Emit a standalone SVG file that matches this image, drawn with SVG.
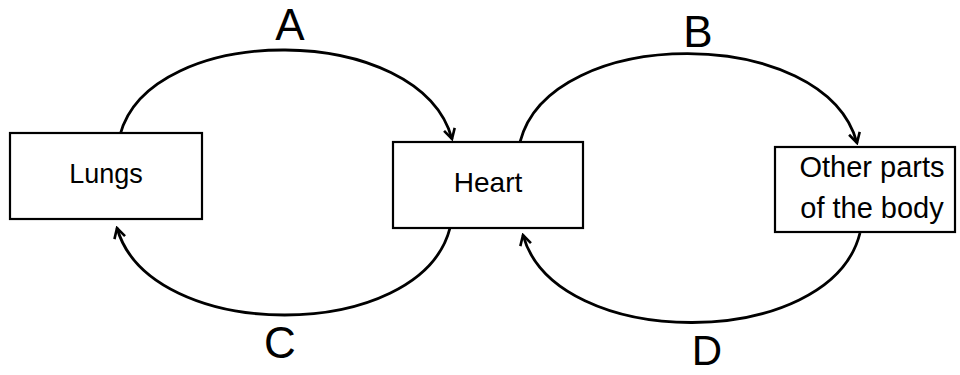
<svg xmlns="http://www.w3.org/2000/svg" width="960" height="375" viewBox="0 0 960 375">
<style>
.box{fill:#fff;stroke:#000;stroke-width:2.2}
.lbl{font-family:"Liberation Sans",Arial,sans-serif;font-size:27px;fill:#000;text-anchor:middle}
.big{font-family:"Liberation Sans",Arial,sans-serif;font-size:44px;fill:#000;text-anchor:middle}
.arc{fill:none;stroke:#000;stroke-width:2.8}
</style>
<defs>
<marker id="ah" viewBox="0 0 14 14" refX="12" refY="7" markerWidth="14" markerHeight="14" markerUnits="userSpaceOnUse" orient="auto">
<path d="M2,1.5 L12,7 L2,12.5" fill="none" stroke="#000" stroke-width="2.6"/>
</marker>
</defs>
<rect width="960" height="375" fill="#fff"/>
<g id="connectors">
<path class="arc" d="M120,135 C150,21 420,21 452,139" marker-end="url(#ah)"/>
<path class="arc" d="M520,142 C550,24 825,24 857,143" marker-end="url(#ah)"/>
<path class="arc" d="M450,228 C420,344 150,344 117,228" marker-end="url(#ah)"/>
<path class="arc" d="M860,233 C830,352 555,352 523,235" marker-end="url(#ah)"/>
</g>
<g id="lungs">
<rect class="box" x="10" y="133" width="192" height="86"/>
<text class="lbl" x="106" y="183">Lungs</text>
</g>
<g id="heart">
<rect class="box" x="393" y="142" width="190" height="86"/>
<text class="lbl" x="488" y="192" style="font-size:28px">Heart</text>
</g>
<g id="other">
<rect class="box" x="775" y="147" width="180" height="85"/>
<text class="lbl" x="872" y="177" style="font-size:29px">Other parts</text>
<text class="lbl" x="872" y="218" style="font-size:29px">of the body</text>
</g>
<g id="labels">
<text class="big" x="290" y="40">A</text>
<text class="big" x="698" y="47">B</text>
<text class="big" x="280" y="358">C</text>
<text class="big" x="707" y="365" style="font-size:42px">D</text>
</g>
</svg>
